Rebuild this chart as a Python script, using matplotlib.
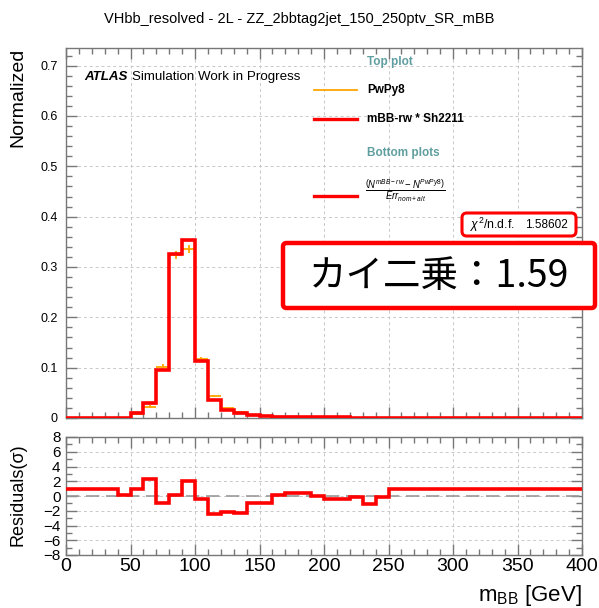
import numpy as np
import matplotlib
matplotlib.use('Agg')
import matplotlib.pyplot as plt
from matplotlib.patches import FancyBboxPatch
from matplotlib.ticker import MultipleLocator

plt.rcParams['font.family'] = ['Liberation Sans', 'DejaVu Sans']
plt.rcParams['mathtext.fontset'] = 'custom'
plt.rcParams['mathtext.rm'] = 'Liberation Sans'
plt.rcParams['mathtext.it'] = 'Liberation Sans:italic'
plt.rcParams['mathtext.bf'] = 'Liberation Sans:bold'

# ============================================================
# Data (10 GeV bins, 0-400 GeV)
# ============================================================

bin_edges = np.arange(0, 410, 10)

# mBB-rw * Sh2211 (red)
sh_vals = [0, 0, 0, 0, 0,
           0.0105, 0.029, 0.095, 0.326, 0.353,
           0.114, 0.036, 0.016, 0.009, 0.005,
           0.004, 0.0025, 0.0025, 0.0022, 0.0013,
           0.0013, 0.0012, 0.0004, 0.0003, 0.0002] + [0] * 15

# PwPy8 (orange)
pw_vals = [0, 0, 0, 0, 0,
           0.008, 0.0225, 0.102, 0.324, 0.335,
           0.117, 0.044, 0.019, 0.011, 0.006,
           0.0045, 0.0025, 0.0024, 0.002, 0.0013,
           0.0014, 0.0012, 0.0004, 0.0003, 0.0002] + [0] * 15
pw_errs = [0, 0, 0, 0, 0,
           0.002, 0.003, 0.005, 0.008, 0.008,
           0.004, 0.002, 0.0015, 0.001, 0.001,
           0.0008, 0.0006, 0.0006, 0.0005, 0.0004,
           0.0004, 0.0004, 0.0002, 0.0002, 0.0001] + [0] * 15

# Residuals (sigma)
resid_vals = [1.0, 1.0, 1.0, 1.0, 0.15,
              1.0, 2.3, -1.0, 0.2, 2.1,
              -0.45, -2.4, -2.2, -2.3, -0.9,
              -0.9, 0.15, 0.45, 0.35, 0.0,
              -0.45, -0.4, -0.2, -1.1, -0.1] + [1.0] * 15

title = 'VHbb_resolved - 2L - ZZ_2bbtag2jet_150_250ptv_SR_mBB'
chi2_value = '1.58602'
chi2_jp = 'カイ二乗：1.59'

# ============================================================
# Figure
# ============================================================

W, H = 599, 608
fig = plt.figure(figsize=(W / 100, H / 100), dpi=100)


def fx(px):
    return px / W


def fy(py):
    return 1 - py / H


frame_col = '#777777'
grid_col = '#c8c8c8'

ax = fig.add_axes([fx(66), fy(418), (582 - 66) / W, (418 - 48) / H])
axr = fig.add_axes([fx(66), fy(555), (582 - 66) / W, (555 - 437) / H])

for a in (ax, axr):
    for s in a.spines.values():
        s.set_color(frame_col)
        s.set_linewidth(1.0)
    a.tick_params(which='both', direction='in', top=True, right=True,
                  color=frame_col, width=1.0)
    a.tick_params(which='major', length=8)
    a.tick_params(which='minor', length=4.5)
    a.xaxis.set_major_locator(MultipleLocator(50))
    a.xaxis.set_minor_locator(MultipleLocator(10))
    a.grid(True, which='major', color=grid_col, linestyle=(0, (3, 3)),
           linewidth=0.7)
    a.set_xlim(0, 400)

# --------------------------------------------------------
# Top plot
# --------------------------------------------------------

sh = np.array(sh_vals)
pw = np.array(pw_vals)
centers = 0.5 * (bin_edges[:-1] + bin_edges[1:])

ax.stairs(sh + 0.0025, bin_edges, baseline=np.clip(sh - 0.0025, 0, None),
          fill=True, color='#ffb4b4', alpha=0.8, zorder=2)
mask = pw > 0
ax.errorbar(centers[mask], pw[mask], xerr=5, yerr=np.array(pw_errs)[mask],
            fmt='none', ecolor='#ffa500', elinewidth=1.3, zorder=3)
ax.stairs(sh, bin_edges, baseline=None, color='#ff0000', linewidth=2.6,
          zorder=4)

ax.set_ylim(0, 0.735)
ax.yaxis.set_major_locator(MultipleLocator(0.1))
ax.yaxis.set_minor_locator(MultipleLocator(0.02))
ax.set_yticks(np.arange(0, 0.75, 0.1))
ax.set_yticklabels(['0', '0.1', '0.2', '0.3', '0.4', '0.5', '0.6', '0.7'])
ax.tick_params(axis='y', labelsize=9, pad=6)
ax.tick_params(axis='x', labelbottom=False)

# --------------------------------------------------------
# Residuals
# --------------------------------------------------------

axr.axhline(0, color='#999999', linestyle=(0, (8, 4)), linewidth=1.2,
            zorder=2)
axr.stairs(resid_vals, bin_edges, baseline=None, color='#ff0000',
           linewidth=2.6, zorder=3)
axr.set_ylim(-8, 8)
axr.yaxis.set_major_locator(MultipleLocator(2))
axr.yaxis.set_minor_locator(MultipleLocator(1))
axr.tick_params(axis='y', labelsize=11, pad=4)
axr.tick_params(axis='x', labelsize=14, pad=2)

# --------------------------------------------------------
# Texts
# --------------------------------------------------------

fig.text(0.5, fy(19), title, ha='center', va='center', fontsize=10.5)
fig.text(fx(18), fy(48), 'Normalized', rotation=90, ha='center', va='top',
         fontsize=14)
fig.text(fx(18), fy(443), 'Residuals(σ)', rotation=90, ha='center',
         va='top', fontsize=13)
fig.text(fx(582), fy(596), r'm$_{\mathrm{BB}}$ [GeV]', ha='right',
         va='center', fontsize=16)

fig.text(fx(84), fy(77), 'ATLAS', ha='left', va='center', fontsize=9.6,
         fontweight='bold', fontstyle='italic')
fig.text(fx(132), fy(77), 'Simulation Work in Progress', ha='left',
         va='center', fontsize=9.6)

# legend
teal = '#5f9ea0'
fig.text(fx(367), fy(62), 'Top plot', ha='left', va='center', fontsize=8.5,
         fontweight='bold', color=teal)
fig.text(fx(367), fy(90), 'PwPy8', ha='left', va='center', fontsize=8.5,
         fontweight='bold')
fig.text(fx(367), fy(119), 'mBB-rw * Sh2211', ha='left', va='center',
         fontsize=8.5, fontweight='bold')
fig.text(fx(367), fy(153), 'Bottom plots', ha='left', va='center',
         fontsize=8.5, fontweight='bold', color=teal)
fig.text(fx(365), fy(191),
         r'$\frac{\left(N^{mBB-rw}-N^{PwPy8}\right)}{Err_{nom+alt}}$',
         ha='left', va='center', fontsize=9.8)

for py, col, lw in [(90, '#ffa500', 1.3), (119, '#ff0000', 2.4),
                    (196, '#ff0000', 2.4)]:
    fig.add_artist(plt.Line2D([fx(314), fx(357)], [fy(py), fy(py)],
                              color=col, linewidth=lw))

# chi2 box
fig.add_artist(FancyBboxPatch((fx(462), fy(236)), fx(576) - fx(462),
                              fy(213) - fy(236),
                              boxstyle='round,pad=0,rounding_size=0.008',
                              facecolor='white', edgecolor='#ff0000',
                              linewidth=2.2))
fig.text(fx(470), fy(225), r'$\chi^2$/n.d.f.', ha='left', va='center',
         fontsize=8.8, zorder=5)
fig.text(fx(568), fy(225), chi2_value, ha='right', va='center',
         fontsize=8.5, zorder=5)

# big Japanese box
fig.add_artist(FancyBboxPatch((fx(283), fy(308)), fx(595) - fx(283),
                              fy(243) - fy(308),
                              boxstyle='round,pad=0,rounding_size=0.006',
                              facecolor='white', edgecolor='#ff0000',
                              linewidth=3.2))
fig.text(fx(439), fy(276), chi2_jp, ha='center', va='center', fontsize=27,
         family=['Noto Sans CJK JP', 'DejaVu Sans'], zorder=5)

fig.savefig('out.png', dpi=100)
